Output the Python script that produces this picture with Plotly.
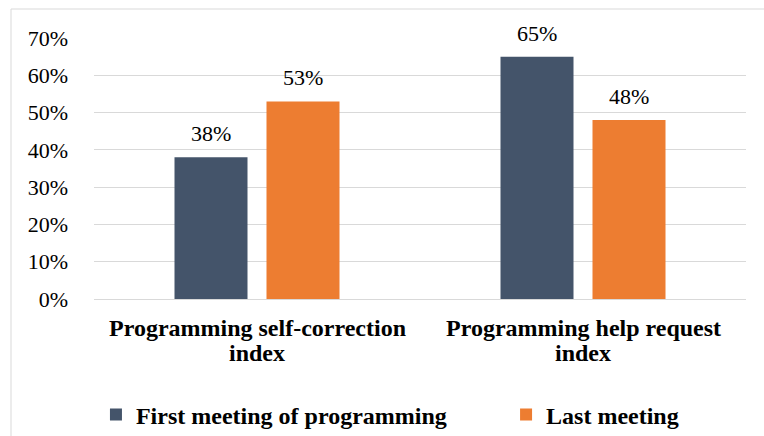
import plotly.graph_objects as go

categories = ["Programming self-correction<br>index", "Programming help request<br>index"]
series_names = ["First meeting of programming", "Last meeting"]
first_meeting = [0.38, 0.65]
last_meeting = [0.53, 0.48]
tick_vals = [0, 0.1, 0.2, 0.3, 0.4, 0.5, 0.6, 0.7]
tick_text = ["0%", "10%", "20%", "30%", "40%", "50%", "60%", "70%"]

colors = ["#44546A", "#ED7D31"]
font_family = "Liberation Serif, Times New Roman, serif"

fig = go.Figure()
legends = ["legend", "legend2"]
shifts = [-46, 46]
annotations = []
for name, vals, col, lg, sh in zip(series_names, [first_meeting, last_meeting], colors, legends, shifts):
    fig.add_trace(go.Bar(
        x=categories, y=vals, name=name, marker=dict(color=col, line=dict(width=0)),
        legend=lg,
    ))
    for c, v in zip(categories, vals):
        annotations.append(dict(x=c, y=v, xref="x", yref="y", text=f"{round(v*100)}%",
                                showarrow=False, yanchor="bottom", xshift=sh, yshift=9,
                                font=dict(family=font_family, size=22, color="#000000")))

# category labels, one annotation per line for tight line spacing
for c in categories:
    for i, line in enumerate(c.split("<br>")):
        annotations.append(dict(x=c, y=0, xref="x", yref="paper", text=line,
                                showarrow=False, yanchor="middle", yshift=-29 - 25 * i,
                                font=dict(family=font_family, size=24, color="#000000",
                                          weight="bold")))

legend_font = dict(family=font_family, size=24, color="#000000", weight="bold")
fig.update_layout(
    width=764, height=436,
    margin=dict(l=94, r=18, t=38, b=137, autoexpand=False),
    paper_bgcolor="white", plot_bgcolor="white",
    font=dict(family=font_family, color="#000000"),
    barmode="group", bargap=0.4356, bargroupgap=0.2065,
    showlegend=True,
    legend=dict(orientation="h", x=0.003, xanchor="left", yref="container", y=1 - 415 / 436,
                yanchor="middle", font=legend_font, bgcolor="rgba(0,0,0,0)"),
    legend2=dict(orientation="h", x=0.632, xanchor="left", yref="container", y=1 - 415 / 436,
                 yanchor="middle", font=legend_font, bgcolor="rgba(0,0,0,0)"),
    annotations=annotations,
    shapes=[dict(type="rect", xref="paper", yref="paper",
                 x0=(11 - 94) / 652, x1=(770 - 94) / 652, y0=1 + (38 - 445) / 261, y1=1 + (38 - 9) / 261,
                 line=dict(color="#d9d9d9", width=1), fillcolor="rgba(0,0,0,0)", layer="below")],
)
fig.update_yaxes(range=[0, 0.7], tickvals=tick_vals, ticktext=tick_text,
                 showgrid=True, gridcolor="#d9d9d9", gridwidth=1, zeroline=False,
                 showline=False, ticks="", ticklabelstandoff=25, automargin=False,
                 tickfont=dict(family=font_family, size=22, color="#000000"))
fig.update_xaxes(showline=True, linecolor="#d9d9d9", linewidth=1, ticks="",
                 showticklabels=False, automargin=False)

fig.write_html("out.html", config={"displayModeBar": False},
               post_script="document.body.style.margin='0';")
